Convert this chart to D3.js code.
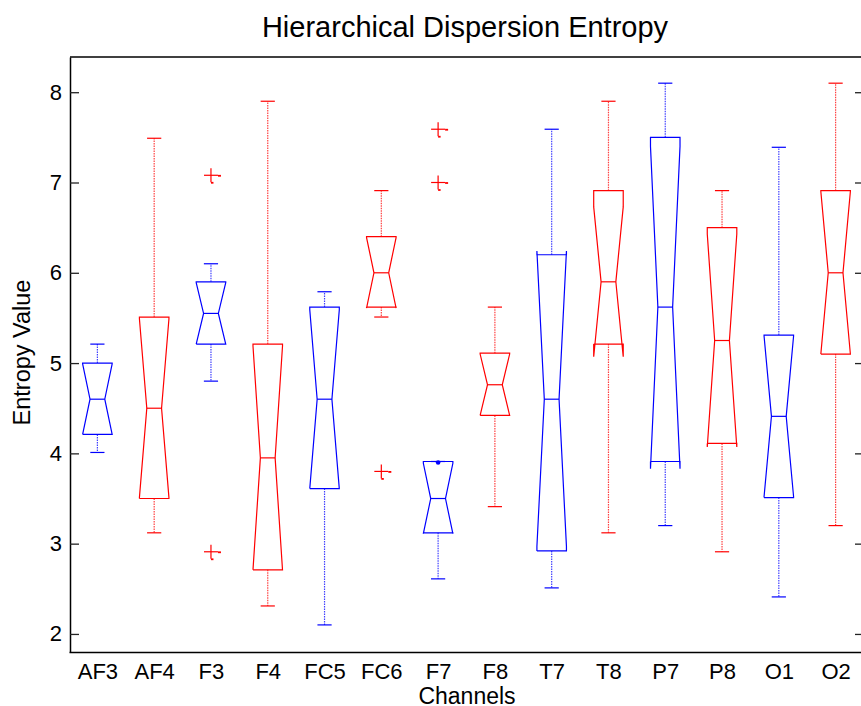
<!DOCTYPE html>
<html>
<head>
<meta charset="utf-8">
<script src="https://cdn.jsdelivr.net/npm/d3@7"></script>
<style>
  body { margin: 0; background: #fff; }
  svg { display: block; font-family: "Liberation Sans", Arial, sans-serif; }
</style>
</head>
<body>
<svg width="861" height="706"></svg>
<script>
"use strict";

// channel names, left to right
const channels = ["AF3", "AF4", "F3", "F4", "FC5", "FC6", "F7", "F8", "T7", "T8", "P7", "P8", "O1", "O2"];

// box statistics
const whiskerHigh = [5.21, 7.49, 6.10, 7.90, 5.79, 6.91, 3.91, 5.62, 7.59, 7.90, 8.10, 6.91, 7.39, 8.10];
const q3 = [5.00, 5.51, 5.90, 5.21, 5.62, 6.40, 3.91, 5.11, 6.20, 6.91, 7.50, 6.50, 5.31, 6.91];
const median = [4.60, 4.50, 5.55, 3.95, 4.60, 6.00, 3.50, 4.76, 4.60, 5.90, 5.62, 5.25, 4.41, 6.00];
const q1 = [4.21, 3.50, 5.21, 2.71, 3.61, 5.62, 3.12, 4.42, 2.92, 5.21, 3.91, 4.11, 3.51, 5.10];
const whiskerLow = [4.01, 3.12, 4.80, 2.31, 2.10, 5.51, 2.61, 3.41, 2.51, 3.12, 3.20, 2.91, 2.41, 3.20];
const notchLow = [4.21, 3.51, 5.21, 2.71, 3.61, 5.61, 3.11, 4.42, 2.97, 5.07, 3.83, 4.07, 3.52, 5.10];
const notchHigh = [4.99, 5.49, 5.89, 5.19, 5.59, 6.39, 3.89, 5.10, 6.24, 6.73, 7.40, 6.43, 5.30, 6.90];

// outliers (red plus signs)
const outlierChannel = ["F3", "F3", "FC6", "F7", "F7"];
const outlierValue = [7.08, 2.91, 3.80, 7.59, 7.00];

const yTicks = [2, 3, 4, 5, 6, 7, 8];

const svg = d3.select("svg");

// scales: x is the box position 1..14, y the entropy value
const xScale = d3.scaleLinear().domain([0.5, 14.5]).range([69, 864]);
const yScale = d3.scaleLinear().domain([1.8, 8.39]).range([652, 57]);

const colorOf = (i) => (i % 2 === 0 ? "#0000ff" : "#ff0000");

const boxHalf = 0.26;   // half box width, in x units
const waistHalf = 0.13; // half width at the notch
const capHalf = 0.125;  // half width of whisker caps

// axes
const yAxis = d3.axisLeft(yScale).tickValues(yTicks).tickFormat(d3.format("d"))
  .tickSizeInner(-9).tickSizeOuter(0).tickPadding(8);
const yAxisRight = d3.axisRight(yScale).tickValues(yTicks).tickSizeInner(-9).tickSizeOuter(0).tickFormat("");
const xAxis = d3.axisBottom(xScale)
  .tickValues(d3.range(1, channels.length + 1))
  .tickSize(0)
  .tickSizeOuter(0)
  .tickPadding(11)
  .tickFormat((d) => channels[d - 1]);

const gy = svg.append("g").attr("transform", "translate(70,0)").call(yAxis);
gy.select(".domain").attr("stroke", "#000").attr("stroke-width", 1.5);
gy.selectAll(".tick line").attr("stroke", "#222").attr("stroke-width", 1.3);
gy.selectAll(".tick text").attr("font-size", 22).attr("fill", "#000")
  .attr("font-family", "Liberation Sans, Arial, sans-serif");

const gr = svg.append("g").attr("transform", "translate(864,0)").call(yAxisRight);
gr.selectAll(".tick line").attr("stroke", "#222").attr("stroke-width", 1.3);

const gx = svg.append("g").attr("transform", "translate(0,652)").call(xAxis);
gx.select(".domain").attr("stroke", "#000").attr("stroke-width", 1.5);
gx.selectAll(".tick text").attr("font-size", 22).attr("fill", "#000")
  .attr("font-family", "Liberation Sans, Arial, sans-serif");

// top border
svg.append("line")
  .attr("x1", 70).attr("x2", 864)
  .attr("y1", yScale.range()[1]).attr("y2", yScale.range()[1])
  .attr("stroke", "#000").attr("stroke-width", 1.5);

// boxes
const boxes = svg.append("g").attr("fill", "none");

channels.forEach(function (name, i) {
  const pos = i + 1;
  const c = colorOf(i);
  const xl = xScale(pos - boxHalf);
  const xr = xScale(pos + boxHalf);
  const wl = xScale(pos - waistHalf);
  const wr = xScale(pos + waistHalf);
  const xc = xScale(pos);

  const g = boxes.append("g").attr("stroke", c).attr("stroke-width", 1.2);

  // dashed whiskers
  g.append("line")
    .attr("x1", xc).attr("x2", xc)
    .attr("y1", yScale(q3[i])).attr("y2", yScale(whiskerHigh[i]))
    .attr("stroke-dasharray", "1.5,1").attr("stroke-opacity", 0.75);
  g.append("line")
    .attr("x1", xc).attr("x2", xc)
    .attr("y1", yScale(q1[i])).attr("y2", yScale(whiskerLow[i]))
    .attr("stroke-dasharray", "1.5,1").attr("stroke-opacity", 0.75);

  // caps
  [whiskerHigh[i], whiskerLow[i]].forEach(function (v) {
    g.append("line")
      .attr("x1", xScale(pos - capHalf)).attr("x2", xScale(pos + capHalf))
      .attr("y1", yScale(v)).attr("y2", yScale(v));
  });

  // zero length whisker shows as a dot
  if (whiskerHigh[i] === q3[i]) {
    g.append("circle").attr("cx", xc).attr("cy", yScale(q3[i]) + 1)
      .attr("r", 2.3).attr("fill", c).attr("stroke", "none");
  }

  // notched box outline
  const pts = [
    [xl, q1[i]], [xl, notchLow[i]], [wl, median[i]], [xl, notchHigh[i]], [xl, q3[i]],
    [xr, q3[i]], [xr, notchHigh[i]], [wr, median[i]], [xr, notchLow[i]], [xr, q1[i]], [xl, q1[i]]
  ];
  const line = d3.line().x((d) => d[0]).y((d) => yScale(d[1]));
  g.append("path").attr("d", line(pts));

  // median line
  g.append("line")
    .attr("x1", wl).attr("x2", wr)
    .attr("y1", yScale(median[i])).attr("y2", yScale(median[i]));
});

// outliers
const outG = svg.append("g").attr("stroke", "#ff0000").attr("stroke-width", 1.2).attr("fill", "none");
outlierValue.forEach(function (v, k) {
  const cx = xScale(channels.indexOf(outlierChannel[k]) + 1);
  const cy = yScale(v);
  outG.append("line").attr("x1", cx - 7).attr("x2", cx + 7).attr("y1", cy).attr("y2", cy);
  outG.append("line").attr("x1", cx).attr("x2", cx).attr("y1", cy - 7).attr("y2", cy + 7);
  // small dark marks next to each plus, as in the original render
  outG.append("line").attr("x1", cx + 7).attr("x2", cx + 10).attr("y1", cy + 0.5).attr("y2", cy + 0.5)
    .attr("stroke-width", 1.8);
  outG.append("line").attr("x1", cx).attr("x2", cx + 2.5).attr("y1", cy + 7.5).attr("y2", cy + 7.5)
    .attr("stroke-width", 1.8);
});

// title and axis labels
svg.append("text")
  .attr("x", 465).attr("y", 37)
  .attr("text-anchor", "middle")
  .attr("font-size", 29)
  .text("Hierarchical Dispersion Entropy");

svg.append("text")
  .attr("x", 467).attr("y", 704)
  .attr("text-anchor", "middle")
  .attr("font-size", 23)
  .text("Channels");

svg.append("text")
  .attr("transform", "translate(30,352.5) rotate(-90)")
  .attr("text-anchor", "middle")
  .attr("font-size", 23.5)
  .text("Entropy Value");
</script>
</body>
</html>
